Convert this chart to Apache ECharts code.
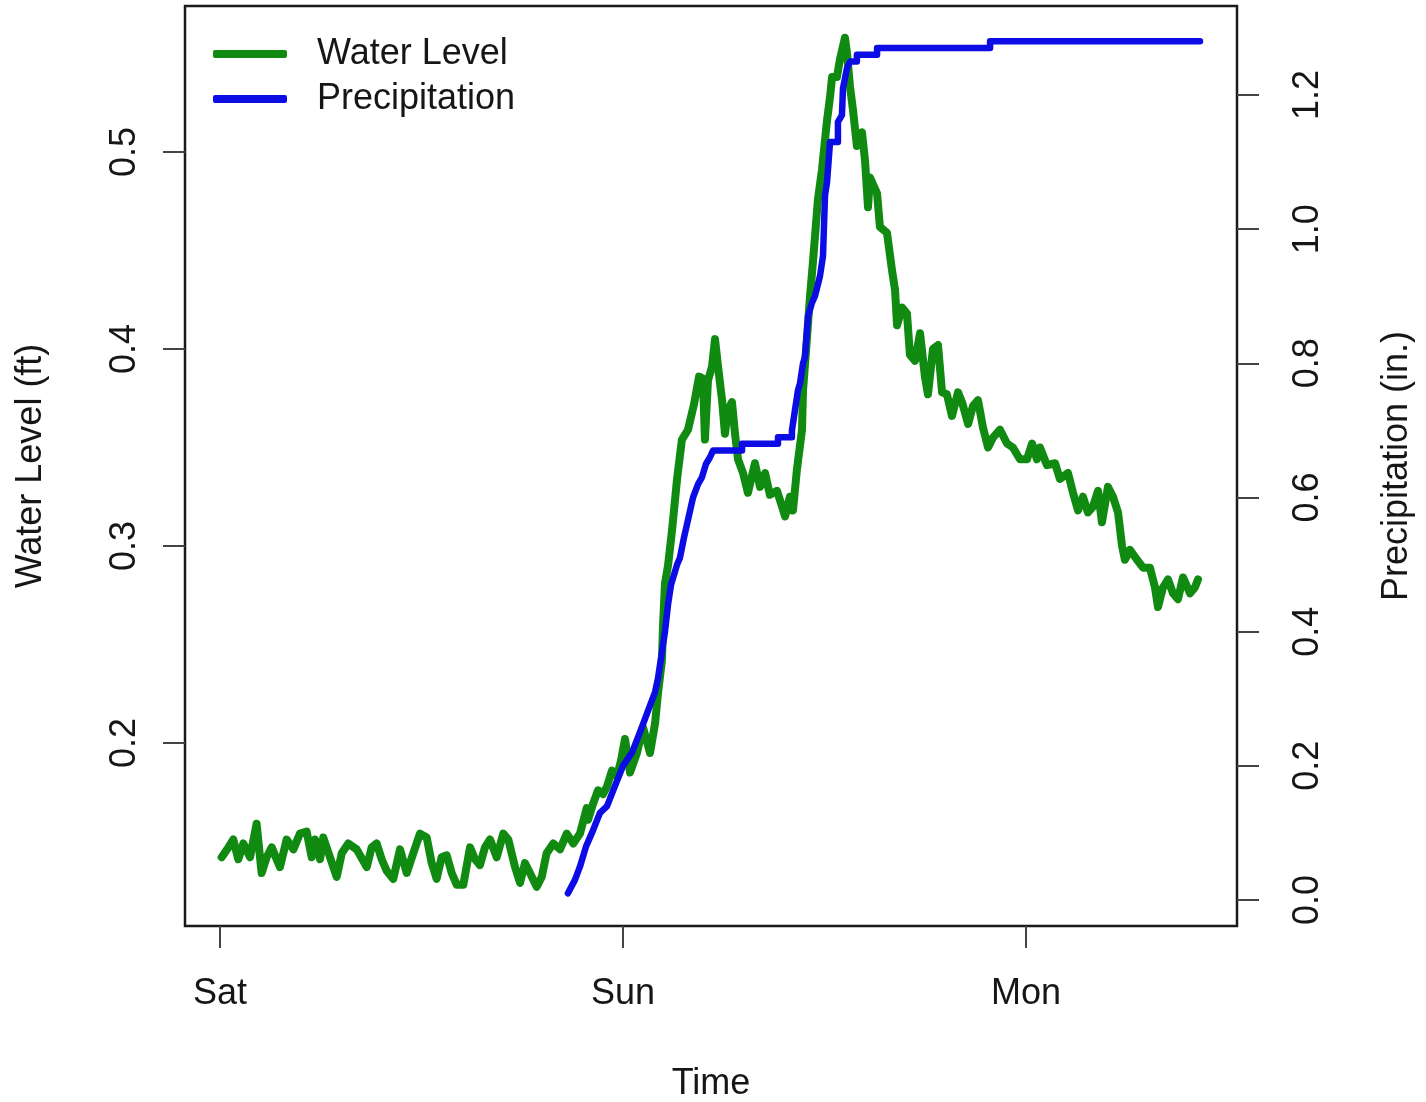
<!DOCTYPE html>
<html>
<head>
<meta charset="utf-8">
<script src="https://cdn.jsdelivr.net/npm/echarts@6/dist/echarts.min.js"></script>
<style>
  html, body { margin: 0; padding: 0; background: #fff; }
  #chart { width: 1426px; height: 1102px; }
</style>
</head>
<body>
<div id="chart"></div>
<script>
// time in hours since Saturday 00:00
var waterHours = [0.10,0.50,0.79,1.09,1.39,1.79,2.18,2.48,2.78,3.08,3.57,3.97,4.37,4.76,5.16,5.46,5.66,5.96,6.15,6.55,
  6.95,7.25,7.64,8.14,8.74,9.03,9.33,9.63,9.93,10.32,10.72,11.12,11.51,11.91,12.31,12.61,12.90,13.20,13.50,13.80,
  14.10,14.49,14.89,15.19,15.48,15.78,16.08,16.48,16.87,17.17,17.57,17.87,18.16,18.46,18.86,19.16,19.45,19.85,20.25,20.65,
  21.04,21.44,21.84,21.92,22.21,22.51,22.81,23.05,23.34,23.64,23.88,24.12,24.42,24.83,25.19,25.61,25.91,26.08,
  26.32,26.38,26.50,26.68,26.92,27.22,27.51,27.87,28.23,28.53,28.76,28.88,29.06,29.30,29.48,29.66,29.90,30.07,30.25,30.49,
  30.67,30.85,31.15,31.44,31.86,32.16,32.46,32.75,33.17,33.47,33.65,33.94,34.12,34.36,34.66,34.72,34.96,35.13,35.31,35.61,
  35.85,36.15,36.33,36.45,36.74,36.92,37.22,37.34,37.52,37.70,37.93,38.23,38.41,38.59,38.71,39.13,39.30,39.72,40.02,40.20,
  40.32,40.62,40.91,41.09,41.39,41.69,41.98,42.16,42.46,42.76,43.00,43.29,43.59,43.95,44.19,44.55,44.84,45.14,45.44,45.74,
  46.03,46.45,46.87,47.22,47.64,48.06,48.36,48.65,48.83,49.25,49.73,50.02,50.50,50.80,51.10,51.39,51.69,51.99,52.29,52.52,
  52.88,53.18,53.48,53.72,53.89,54.19,54.61,54.97,55.38,55.68,55.86,56.16,56.46,56.75,57.05,57.35,57.77,58.06,58.24];
var waterLevel = [0.142,0.147,0.151,0.141,0.149,0.142,0.159,0.134,0.142,0.147,0.137,0.151,0.146,0.154,0.155,0.142,0.151,0.141,0.152,0.142,
  0.132,0.144,0.149,0.146,0.137,0.147,0.149,0.141,0.135,0.131,0.146,0.134,0.144,0.154,0.152,0.139,0.131,0.142,0.143,0.134,
  0.128,0.128,0.147,0.141,0.138,0.147,0.151,0.142,0.154,0.151,0.137,0.129,0.139,0.134,0.127,0.132,0.144,0.149,0.146,0.154,
  0.149,0.154,0.167,0.161,0.169,0.176,0.174,0.178,0.186,0.183,0.191,0.202,0.185,0.195,0.208,0.195,0.210,0.225,
  0.242,0.259,0.281,0.290,0.308,0.334,0.354,0.359,0.372,0.386,0.385,0.354,0.384,0.391,0.405,0.391,0.374,0.357,0.369,0.373,
  0.357,0.344,0.337,0.327,0.342,0.330,0.337,0.326,0.328,0.320,0.315,0.325,0.318,0.339,0.359,0.379,0.406,0.426,0.444,0.476,
  0.491,0.516,0.528,0.538,0.538,0.547,0.558,0.550,0.533,0.521,0.503,0.510,0.496,0.472,0.487,0.479,0.462,0.459,0.440,0.430,
  0.412,0.421,0.418,0.397,0.394,0.408,0.386,0.377,0.400,0.402,0.378,0.377,0.366,0.378,0.373,0.362,0.371,0.374,0.360,0.350,
  0.355,0.359,0.352,0.350,0.344,0.344,0.352,0.344,0.350,0.341,0.342,0.334,0.337,0.327,0.318,0.325,0.317,0.320,0.328,0.312,
  0.330,0.325,0.317,0.300,0.293,0.298,0.293,0.289,0.289,0.279,0.269,0.279,0.283,0.276,0.273,0.284,0.276,0.279,0.283];

// cumulative rain; repeated hours mark the step corners
var rainHours = [20.72,21.14,21.44,21.80,22.15,22.63,23.05,23.52,24.00,24.54,25.01,25.31,25.61,25.91,26.08,26.26,26.38,26.50,26.68,26.86,
  26.98,27.22,27.39,27.63,27.81,27.99,28.17,28.47,28.70,28.94,29.18,29.36,31.09,31.09,33.23,33.23,34.06,34.06,
  34.24,34.42,34.54,34.72,34.84,35.02,35.25,35.43,35.73,35.91,36.03,36.15,36.33,
  36.80,36.80,37.04,37.10,37.34,37.52,37.93,37.93,39.13,39.13,45.86,45.86,58.36];
var rainTotal = [0.01,0.03,0.05,0.08,0.10,0.13,0.14,0.17,0.20,0.22,0.25,0.27,0.29,0.31,0.33,0.36,0.38,0.40,0.44,0.47,
  0.48,0.50,0.51,0.54,0.56,0.58,0.60,0.62,0.63,0.65,0.66,0.67,0.67,0.68,0.68,0.69,0.69,0.70,
  0.73,0.76,0.77,0.80,0.81,0.87,0.89,0.90,0.93,0.96,1.05,1.07,1.13,
  1.13,1.16,1.17,1.21,1.24,1.25,1.25,1.26,1.26,1.27,1.27,1.28,1.28];

var dayTicks = [0, 24, 48];
var dayLabels = ['Sat', 'Sun', 'Mon'];
var levelTicks = [0.2, 0.3, 0.4, 0.5];
var rainTicks = [0.0, 0.2, 0.4, 0.6, 0.8, 1.0, 1.2];

var waterData = waterHours.map(function (h, i) { return [h, waterLevel[i]]; });
var rainData = rainHours.map(function (h, i) { return [h, rainTotal[i]]; });

var FONT = '"Liberation Sans", Arial, sans-serif';
var TXT = '#161616';

function tickStyle(values) {
    return { show: true, length: 22, customValues: values, lineStyle: { color: '#444', width: 2 } };
}

var chart = echarts.init(document.getElementById('chart'));
chart.setOption({
  animation: false,
  backgroundColor: '#fff',
  textStyle: { fontFamily: FONT },
  grid: {
    left: 185, right: 189, top: 6, bottom: 176,
    outerBoundsMode: 'none',
    show: true, borderColor: '#1a1a1a', borderWidth: 2.5, backgroundColor: 'transparent'
  },
  legend: {
    orient: 'vertical', left: 213, top: 34, itemGap: 5, padding: 0,
    itemWidth: 74, itemHeight: 8, icon: 'roundRect',
    textStyle: { fontSize: 36, color: TXT, fontFamily: FONT, lineHeight: 40, padding: [0, 0, 0, 25] },
    data: ['Water Level', 'Precipitation']
  },
  xAxis: {
    type: 'value',
    min: -2.084, max: 60.565,
    name: 'Time', nameLocation: 'middle', nameGap: 140,
    nameTextStyle: { fontSize: 36, color: TXT, fontFamily: FONT },
    axisLine: { show: false, onZero: false },
    splitLine: { show: false },
    axisTick: tickStyle(dayTicks),
    axisLabel: {
      customValues: dayTicks, margin: 50, fontSize: 36, color: TXT, fontFamily: FONT,
      formatter: function (v) { return dayLabels[dayTicks.indexOf(v)]; }
    }
  },
  yAxis: [{
    type: 'value',
    min: 0.1071, max: 0.5741,
    name: 'Water Level (ft)', nameLocation: 'middle', nameGap: 136,
    nameTextStyle: { fontSize: 36, color: TXT, fontFamily: FONT },
    axisLine: { show: false, onZero: false },
    splitLine: { show: false },
    axisTick: tickStyle(levelTicks),
    axisLabel: {
      customValues: levelTicks, rotate: 90, margin: 42, fontSize: 36, color: TXT, fontFamily: FONT,
      formatter: function (v) { return v.toFixed(1); }
    }
  }, {
    type: 'value', position: 'right',
    min: -0.03876, max: 1.3327,
    name: 'Precipitation (in.)', nameLocation: 'middle', nameGap: 142,
    nameTextStyle: { fontSize: 36, color: TXT, fontFamily: FONT },
    axisLine: { show: false, onZero: false },
    splitLine: { show: false },
    axisTick: tickStyle(rainTicks),
    axisLabel: {
      customValues: rainTicks, rotate: 90, margin: 53, fontSize: 36, color: TXT, fontFamily: FONT,
      formatter: function (v) { return v.toFixed(1); }
    }
  }],
  series: [{
    name: 'Water Level', type: 'line', yAxisIndex: 0,
    data: waterData, showSymbol: false, symbol: 'none',
    color: '#118a11',
    lineStyle: { color: '#118a11', width: 8, cap: 'round', join: 'round' }
  }, {
    name: 'Precipitation', type: 'line', yAxisIndex: 1,
    data: rainData, showSymbol: false, symbol: 'none',
    color: '#0c0ce4',
    lineStyle: { color: '#0c0ce4', width: 6.5, cap: 'round', join: 'round' }
  }]
});
</script>
</body>
</html>
